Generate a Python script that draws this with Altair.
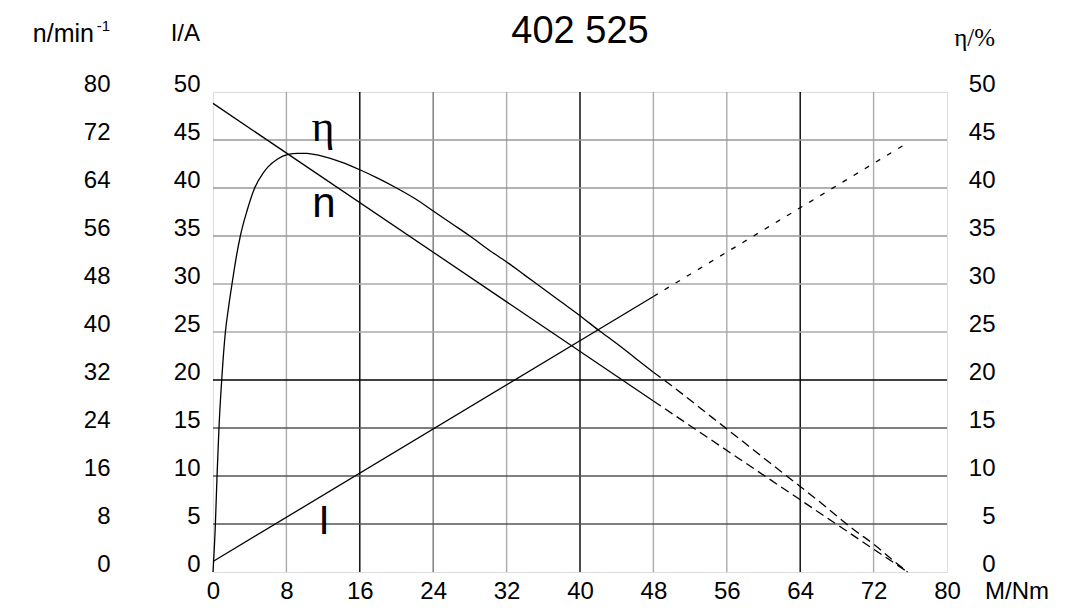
import altair as alt
import pandas as pd

# ---- data ----
x_ticks = [0, 8, 16, 24, 32, 40, 48, 56, 64, 72, 80]
i_ticks = [0, 5, 10, 15, 20, 25, 30, 35, 40, 45, 50]
n_ticks = [0, 8, 16, 24, 32, 40, 48, 56, 64, 72, 80]
eta_ticks = [0, 5, 10, 15, 20, 25, 30, 35, 40, 45, 50]

# efficiency eta / %
m_eta_solid = [0, 0.26, 0.44, 0.65, 0.95, 1.35, 1.7, 2.07, 2.5, 2.98, 3.7, 4.54, 5.5, 6.0, 7.0,
               8.2, 9.2, 10.2, 11, 12, 14, 16, 18, 20, 22, 24, 26, 28, 30, 32, 34, 36, 38, 40,
               42, 44, 46, 48]
eta_solid = [0, 5, 10, 15, 20, 25, 27.6, 30, 32.6, 35, 37.6, 40, 41.6, 42.2, 43.0,
             43.5, 43.6, 43.6, 43.5, 43.3, 42.7, 41.9, 41.0, 40.0, 38.9, 37.6, 36.3, 35.0, 33.6,
             32.3, 30.9, 29.5, 28.1, 26.7, 25.2, 23.8, 22.3, 20.8]
m_eta_dash = [48, 50, 54, 58, 62, 66, 70, 72, 74, 75.7]
eta_dash = [20.8, 19.4, 16.4, 13.4, 10.4, 7.4, 4.3, 2.9, 1.3, 0]

# speed n / min^-1
m_n_solid = [0, 48]
n_solid = [78.1, 28.5]
m_n_dash = [48, 75.7]
n_dash = [28.5, 0]

# current I / A
m_i_solid = [0, 48]
i_solid = [1.1, 28.7]
m_i_dash = [48, 75.7]
i_dash = [28.7, 44.7]

# grid lines
v_grid = [8, 16, 24, 32, 40, 48, 56, 64, 72]
v_grid_color = ["#aaaaaa", "#000000", "#777777", "#aaaaaa", "#000000", "#aaaaaa", "#aaaaaa", "#000000", "#aaaaaa"]
h_grid = [5, 10, 15, 20, 25, 30, 35, 40, 45]
h_grid_color = ["#555555", "#555555", "#555555", "#000000", "#aaaaaa", "#aaaaaa", "#999999", "#999999", "#999999"]

FONT = "Liberation Sans"
SERIF = "Liberation Serif"

xscale = alt.Scale(domain=[0, 80], nice=False, zero=True)
s50 = alt.Scale(domain=[0, 50], nice=False, zero=True)
s80 = alt.Scale(domain=[0, 80], nice=False, zero=True)

x_axis = alt.Axis(values=x_ticks, labelFontSize=24, labelFont=FONT, labelColor="black",
                  ticks=False, domain=False, grid=False, title=None, labelPadding=7,
                  labelFlush=False, labelOverlap=False, format="d")
i_axis = alt.Axis(orient="left", values=i_ticks, labelFontSize=24, labelFont=FONT, labelColor="black",
                  ticks=False, domain=False, grid=False, title=None, labelPadding=13,
                  labelOffset=-8, labelOverlap=False, labelFlush=False, format="d")
n_axis = alt.Axis(orient="left", values=n_ticks, labelFontSize=24, labelFont=FONT, labelColor="black",
                  ticks=False, domain=False, grid=False, title=None, labelPadding=13, offset=90,
                  labelOffset=-8, labelOverlap=False, labelFlush=False, format="d")
eta_axis = alt.Axis(orient="right", values=eta_ticks, labelFontSize=24, labelFont=FONT, labelColor="black",
                    ticks=False, domain=False, grid=False, title=None, labelPadding=48, labelAlign="right",
                    labelOffset=-8, labelOverlap=False, labelFlush=False, format="d")

vg = pd.DataFrame({"M": v_grid, "c": v_grid_color})
hg = pd.DataFrame({"v": h_grid, "c": h_grid_color})

vgrid = alt.Chart(vg).mark_rule(strokeWidth=1.4).encode(
    x=alt.X("M:Q", scale=xscale, axis=x_axis),
    color=alt.Color("c:N", scale=None),
)
hgrid = alt.Chart(hg).mark_rule(strokeWidth=1.4).encode(
    y=alt.Y("v:Q", scale=s50, axis=i_axis),
    color=alt.Color("c:N", scale=None),
)


def line(ms, vs, scale, axis=None, dash=None):
    df = pd.DataFrame({"M": ms, "v": vs})
    kw = dict(color="black", strokeWidth=1.3, interpolate="monotone")
    if dash:
        kw["strokeDash"] = dash
    yenc = alt.Y("v:Q", scale=scale, axis=axis) if axis is not None else alt.Y("v:Q", scale=scale, axis=None)
    return alt.Chart(df).mark_line(**kw).encode(
        x=alt.X("M:Q", scale=xscale, axis=x_axis), y=yenc)


eta_l = line(m_eta_solid, eta_solid, s50, eta_axis)
eta_d = line(m_eta_dash, eta_dash, s50, None, [9, 5])
n_l = line(m_n_solid, n_solid, s80, n_axis)
n_d = line(m_n_dash, n_dash, s80, None, [9, 5])
i_l = line(m_i_solid, i_solid, s50)
i_d = line(m_i_dash, i_dash, s50, None, [5, 8])

one = pd.DataFrame({"a": [0]})


def txt(t, x, y, size, font=FONT, align="center", baseline="middle"):
    return alt.Chart(one).mark_text(text=t, fontSize=size, font=font, align=align,
                                    baseline=baseline, color="black").encode(
        x=alt.value(x), y=alt.value(y))


texts = [
    txt("402 525", 367, -60, 38),
    txt("n/min", -119, -58, 25, align="right"),
    txt("-1", -103, -66, 15, align="right"),
    txt("I/A", -13, -58, 24, align="right"),
    txt("η/%", 782, -54, 25, font=SERIF, align="right"),
    txt("M/Nm", 772, 500, 24, align="left"),
    txt("η", 110, 36, 44, font=SERIF),
    txt("n", 111, 112, 42),
    txt("I", 111, 430, 40),
]

chart = alt.layer(vgrid, hgrid, eta_l, eta_d, n_l, n_d, i_l, i_d, *texts).resolve_scale(
    y="independent"
).properties(
    width=734, height=480,
    padding={"left": 205, "top": 84, "right": 112, "bottom": 34},
    autosize=alt.AutoSizeParams(type="none"),
).configure_view(stroke="#222222", strokeWidth=1.5).configure(background="white")

chart.save("out.html", embed_options={"renderer": "svg", "actions": False})
